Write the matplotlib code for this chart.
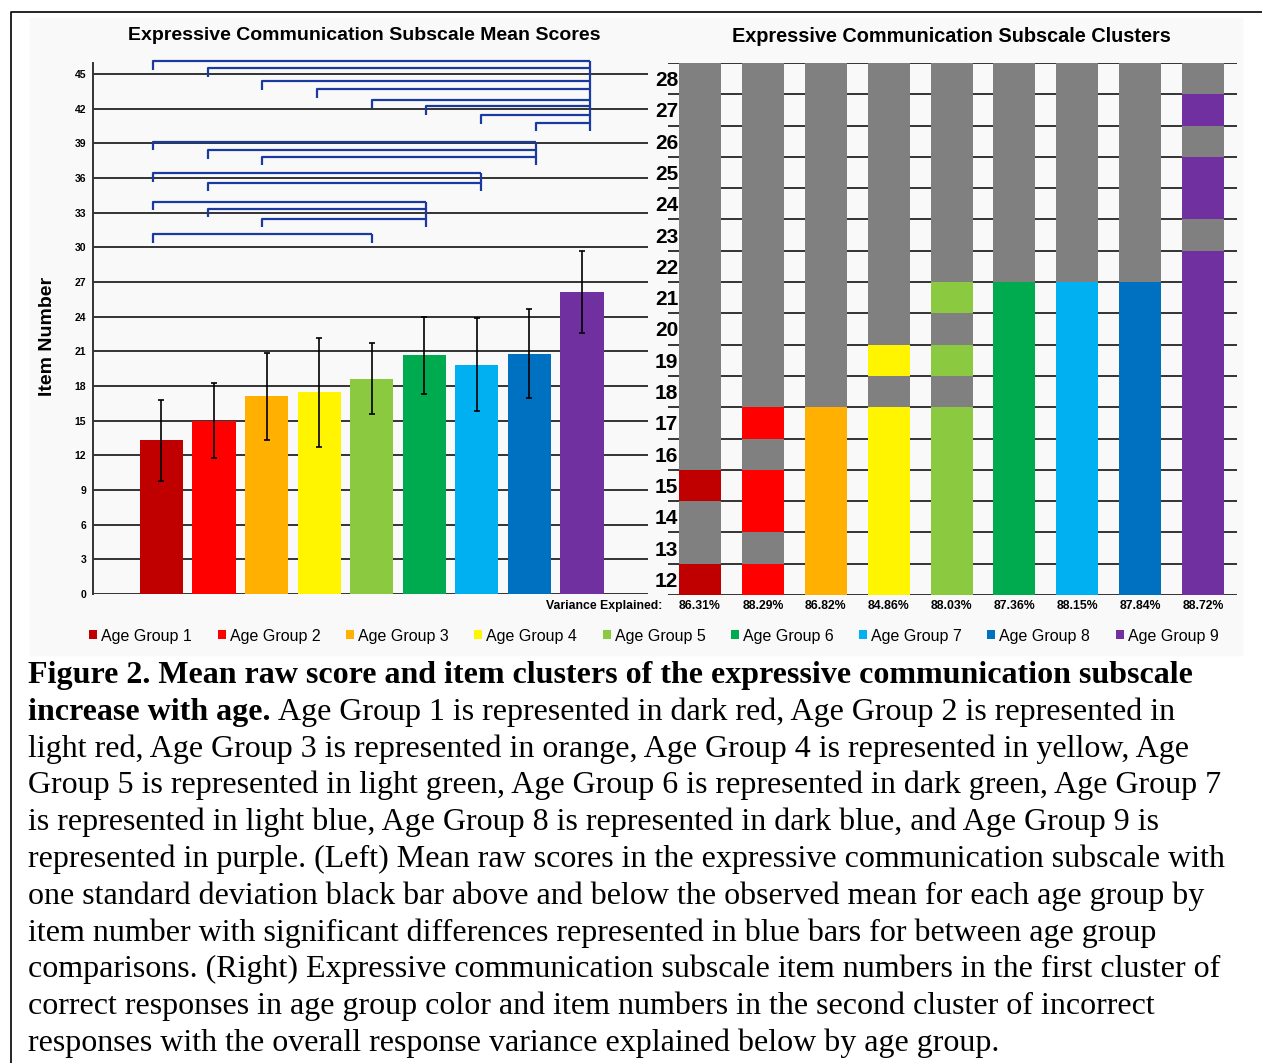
import matplotlib.pyplot as plt
from matplotlib.patches import Patch
from matplotlib.lines import Line2D

W, H = 1262, 1063

groups = ["Age Group 1", "Age Group 2", "Age Group 3", "Age Group 4", "Age Group 5",
          "Age Group 6", "Age Group 7", "Age Group 8", "Age Group 9"]
colors = ["#C00000", "#FF0000", "#FFB000", "#FFF500", "#8BC940",
          "#00AA4E", "#00B0F0", "#0070C0", "#7030A0"]
gray = "#808080"

# left panel: mean raw score and one SD
means = [13.3, 15.0, 17.1, 17.45, 18.65, 20.65, 19.85, 20.8, 26.1]
sds = [3.5, 3.25, 3.8, 4.75, 3.05, 3.35, 4.05, 3.85, 3.55]

# significant comparisons: (group a, group b, bracket level)
sig_pairs = [(1, 9, 46.1), (2, 9, 45.5), (3, 9, 44.4), (4, 9, 43.7), (5, 9, 42.8),
             (6, 9, 42.2), (7, 9, 41.45), (8, 9, 40.8),
             (1, 8, 39.15), (2, 8, 38.4), (3, 8, 37.85),
             (1, 7, 36.4), (2, 7, 35.6),
             (1, 6, 33.95), (2, 6, 33.35), (3, 6, 32.5),
             (1, 5, 31.15)]

# right panel: items in the first (correct) cluster, the rest are in the incorrect cluster
items = [12, 13, 14, 15, 16, 17, 18, 19, 20, 21, 22, 23, 24, 25, 26, 27, 28]
correct_items = [
    [12, 15],
    [12, 14, 15, 17],
    [12, 13, 14, 15, 16, 17],
    [12, 13, 14, 15, 16, 17, 19],
    [12, 13, 14, 15, 16, 17, 19, 21],
    [12, 13, 14, 15, 16, 17, 18, 19, 20, 21],
    [12, 13, 14, 15, 16, 17, 18, 19, 20, 21],
    [12, 13, 14, 15, 16, 17, 18, 19, 20, 21],
    [12, 13, 14, 15, 16, 17, 18, 19, 20, 21, 22, 24, 25, 27],
]
variance = ["86.31%", "88.29%", "86.82%", "84.86%", "88.03%", "87.36%", "88.15%", "87.84%", "88.72%"]

caption_lines = [
    "Figure 2. Mean raw score and item clusters of the expressive communication subscale",
    "increase with age.",
    "light red, Age Group 3 is represented in orange, Age Group 4 is represented in yellow, Age",
    "Group 5 is represented in light green, Age Group 6 is represented in dark green, Age Group 7",
    "is represented in light blue, Age Group 8 is represented in dark blue, and Age Group 9 is",
    "represented in purple. (Left) Mean raw scores in the expressive communication subscale with",
    "one standard deviation black bar above and below the observed mean for each age group by",
    "item number with significant differences represented in blue bars for between age group",
    "comparisons. (Right) Expressive communication subscale item numbers in the first cluster of",
    "correct responses in age group color and item numbers in the second cluster of incorrect",
    "responses with the overall response variance explained below by age group.",
]
line2_rest = "Age Group 1 is represented in dark red, Age Group 2 is represented in"

plt.rcParams["font.family"] = ["Liberation Sans", "DejaVu Sans"]

fig = plt.figure(figsize=(W / 100, H / 100), dpi=100)


def fx(px):
    return px / W


def fy(py):
    return 1 - py / H


# light panel background and frame
fig.add_artist(plt.Rectangle((fx(30), fy(655)), fx(1242) - fx(30), fy(18) - fy(655),
                             color="#f9f9f9", zorder=-5, transform=fig.transFigure))
fig.add_artist(Line2D([fx(11), fx(11), 1], [0, fy(12), fy(12)], color="black", lw=1.2,
                      transform=fig.transFigure))

# ---- left chart
ax = fig.add_axes([fx(93), fy(594), fx(648) - fx(93), fy(51) - fy(594)])
x = list(range(1, 10))
ax.bar(x, means, width=0.82, color=colors, zorder=2)
ax.errorbar(x, means, yerr=sds, fmt="none", ecolor="black", elinewidth=1.2,
            capsize=2.5, capthick=1.2, zorder=3)
ax.set_xlim(-0.302, 10.255)
ax.set_ylim(0, 47)
ax.set_yticks(range(0, 46, 3))
ax.set_xticks([])
ax.grid(axis="y", color="#333333", lw=1.4)
ax.set_axisbelow(True)
for s in ["top", "right", "bottom"]:
    ax.spines[s].set_visible(False)
ax.spines["left"].set_bounds(0, 46)
ax.spines["left"].set_color("#333333")
ax.spines["left"].set_linewidth(1.4)
ax.tick_params(axis="y", length=0, pad=5, labelsize=7.5)
for lab in ax.get_yticklabels():
    lab.set_fontweight("bold")
ax.patch.set_alpha(0)

# significance brackets
drop = 0.75
spread = 1.039


def bx(g):
    return 5 + (g - 5) * spread


for a, b, lvl in sig_pairs:
    ax.plot([bx(a), bx(a), bx(b)], [lvl - drop, lvl, lvl], color="#1a3aa0", lw=1.6,
            solid_capstyle="butt", zorder=4)
for b in sorted(set(p[1] for p in sig_pairs)):
    lv = [p[2] for p in sig_pairs if p[1] == b]
    ax.plot([bx(b), bx(b)], [max(lv), min(lv) - drop], color="#1a3aa0", lw=1.6,
            solid_capstyle="butt", zorder=4)

fig.text(fx(364), fy(35), "Expressive Communication Subscale Mean Scores",
         ha="center", va="center", fontsize=14, fontweight="bold")
fig.text(fx(47), fy(336), "Item Number", rotation=90, ha="center", va="center",
         fontsize=14, fontweight="bold")

# ---- right chart
ax2 = fig.add_axes([fx(668), fy(595), fx(1237) - fx(668), fy(63) - fy(595)])
ax2.set_xlim(0.491, 9.54)
ax2.set_ylim(11.5, 28.5)
for k in range(len(items) + 1):
    ax2.axhline(11.5 + k, color="#333333", lw=1.4, zorder=1)
for i, col in enumerate(colors):
    cell_colors = [col if it in correct_items[i] else gray for it in items]
    ax2.bar([i + 1] * len(items), [1] * len(items), bottom=[it - 0.5 for it in items],
            width=0.668, color=cell_colors, zorder=2)
    ax2.text(i + 1, 11.15, variance[i], ha="center", va="center", fontsize=8.8,
             fontweight="bold", clip_on=False)
for it in items:
    ax2.text(0.655, it, str(it), ha="right", va="center_baseline", fontsize=15,
             fontweight="bold")
ax2.text(0.396, 11.15, "Variance Explained:", ha="right", va="center", fontsize=8.8,
         fontweight="bold", clip_on=False)
ax2.axis("off")

fig.text(fx(951), fy(37), "Expressive Communication Subscale Clusters",
         ha="center", va="center", fontsize=14.3, fontweight="bold")

# ---- legend
handles = [Patch(facecolor=c, edgecolor="none") for c in colors]
fig.legend(handles, groups, ncol=9, loc="center", bbox_to_anchor=(fx(654), fy(636)),
           frameon=False, fontsize=11.5, handlelength=0.5, handleheight=0.5,
           handletextpad=0.25, columnspacing=1.6, borderpad=0)

# ---- caption
serif = ["Liberation Serif", "DejaVu Serif"]
base = 683
step = 36.8
for i, line in enumerate(caption_lines):
    bold = i < 2
    t = fig.text(fx(28), fy(base + step * i), line, ha="left", va="baseline",
                 fontsize=23, family=serif, fontweight="bold" if bold else "normal")
    if i == 1:
        r = fig.canvas.get_renderer()
        bb = t.get_window_extent(renderer=r)
        fig.text((bb.x1 + 8) / W, fy(base + step), line2_rest, ha="left", va="baseline",
                 fontsize=23, family=serif)

fig.savefig("out.png", dpi=100)
